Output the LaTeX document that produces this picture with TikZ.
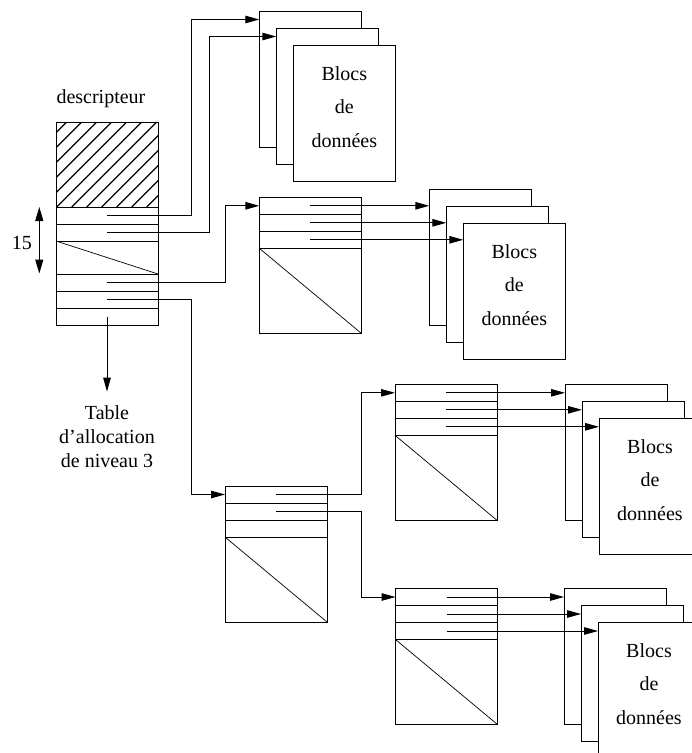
\documentclass[tikz,border=0pt]{standalone}
\usepackage{fontspec}
\setmainfont{Liberation Serif}
\usepackage{tikz}
\usetikzlibrary{arrows.meta,calc}

\tikzset{
  tbl/.style={draw,minimum width=102pt,minimum height=136pt,inner sep=0pt,outer sep=0pt,anchor=north west},
  blk/.style={tbl,fill=white},
  ptr/.style={-{Triangle[length=14pt,width=7.5pt]}},
  lbl/.style={anchor=base,inner sep=0pt}
}

\begin{document}
\begin{tikzpicture}[x=1pt,y=-1pt,line width=1pt,font=\rmfamily\fontsize{20}{24}\selectfont]
\useasboundingbox (0,0) rectangle (692,753);
\clip (0,0) rectangle (692,753);
% descripteur: hatched head, then rows
\node[anchor=base west,inner sep=0pt] (dlab) at (56,103) {descripteur};
\begin{scope}
  \clip (56,122) rectangle (158,207);
  \foreach \c in {0,...,11}
    \draw[line width=1.2pt] ({15*\c-18.3},207) -- ({15*\c+66.7},122);
\end{scope}
\node[tbl,minimum height=203pt] (desc) at (56,122) {};
\foreach \y in {207,224,241,274,291,308}
  \draw (56,\y) -- (158,\y);
\draw[line width=.7pt] (56,241) -- (158,274);
\foreach \y [count=\i] in {215.5,232.5,282.5,299.5,316.5}
  \coordinate (d\i) at (107,\y);
% 15 entries
\coordinate (q1) at (39.3,207);
\coordinate (q2) at (39.3,273.5);
\draw[{Triangle[length=14pt,width=8pt]}-{Triangle[length=14pt,width=8pt]}] (q1) -- (q2);
\node[lbl] (quinze) at (22,249) {15};
% tables of pointers
\foreach \n/\x/\y in {ta/259.3/197.3, tb/225/486, tc/395/384.3, td/395.5/588.5}{
  \node[tbl] (\n) at (\x,\y) {};
  \foreach \r in {17,34,51}
    \draw (\x,\y+\r) -- (\x+102,\y+\r);
  \draw[line width=.7pt] (\x,\y+51) -- (\x+102,\y+136);
  \foreach \r [count=\i] in {8.5,25.5,42.5}
    \coordinate (\n\i) at (\x+51,\y+\r);
}
% blocs de donnees
\foreach \n/\x/\y in {sa/259.3/11, sb/429.3/189.3, sc/565/384.3, sd/564/588.3}{
  \foreach \k in {1,2,3}
    \node[blk] (\n\k) at ({\x+17*(\k-1)},{\y+17*(\k-1)}) {};
  \node[lbl] (\n-l1) at (\x+85,\y+69) {Blocs};
  \node[lbl] (\n-l2) at (\x+85,\y+102) {de};
  \node[lbl] (\n-l3) at (\x+85,\y+136) {données};
}
% table de niveau 3
\node[lbl] (tab1) at (107,419) {Table};
\node[lbl] (tab2) at (107,443) {d’allocation};
\node[lbl] (tab3) at (107,467) {de niveau 3};
% pointers from the descripteur
\draw[ptr] (d1) -- ++(84.7,0) |- ($(sa1.north west)+(0,8.5)$);
\draw[ptr] (d2) -- ++(102,0) |- ($(sa2.north west)+(0,8.5)$);
\draw[ptr] (d3) -- ++(118.7,0) |- (ta.west |- ta1);
\draw[ptr] (d4) -- ++(84.7,0) |- (tb.west |- tb1);
\draw[ptr] (d5) -- ($(tab1.north)+(0,-13)$);
% pointers from the tables
\foreach \s/\t in {ta/sb, tc/sc, td/sd}
  \foreach \i in {1,2,3}
    \draw[ptr] (\s\i) -- (\t\i.west |- \s\i);
\draw[ptr] (tb1) -- ++(85.7,0) |- (tc.west |- tc1);
\draw[ptr] (tb2) -- ++(85.7,0) |- (td.west |- td1);
\end{tikzpicture}
\end{document}
